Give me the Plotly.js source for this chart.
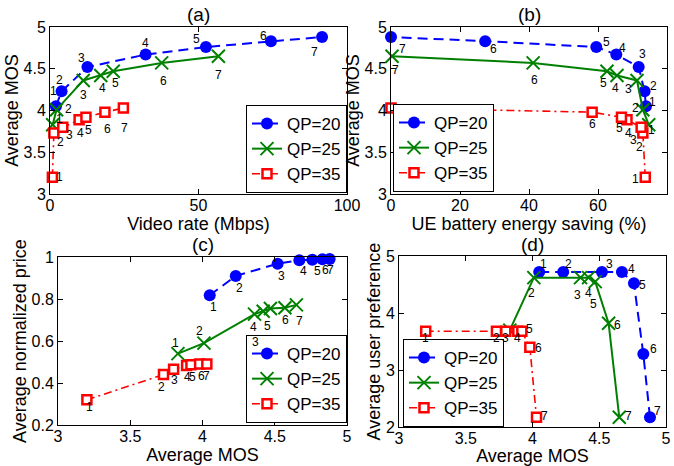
<!DOCTYPE html>
<html>
<head>
<meta charset="utf-8">
<script src="https://cdn.plot.ly/plotly-3.0.1.min.js"></script>
<style>
html,body{margin:0;padding:0;background:#fff;}
#chart{width:674px;height:466px;}
</style>
</head>
<body>
<div id="chart"></div>
<script>
// ---------------- data ----------------
const seriesNames = ['QP=20', 'QP=25', 'QP=35'];
const pointLabels = ['1', '2', '3', '4', '5', '6', '7'];

// Average MOS per configuration (shared by all four panels)
const mosQP20 = [4.05, 4.23, 4.52, 4.67, 4.76, 4.83, 4.88];
const mosQP25 = [3.83, 4.01, 4.36, 4.42, 4.47, 4.57, 4.65];
const mosQP35 = [3.20, 3.73, 3.80, 3.89, 3.92, 3.98, 4.03];

// (a) video rate (Mbps)
const rateQP20 = [2.0, 3.9, 12.6, 32.2, 52.5, 74.4, 91.6];
const rateQP25 = [0.9, 2.2, 11.2, 17.1, 21.3, 37.6, 56.7];
const rateQP35 = [0.8, 1.3, 4.3, 9.8, 12.1, 18.5, 24.7];

// (b) UE battery energy saving (%)
const saveQP20 = [73.9, 73.5, 71.8, 65.3, 59.5, 27.3, 0.0];
const saveQP25 = [74.7, 73.0, 71.3, 65.5, 62.6, 41.2, 0.3];
const saveQP35 = [73.7, 73.0, 72.5, 68.4, 66.8, 58.3, 0.0];

// (c) average normalized price
const priceQP20 = [0.818, 0.910, 0.968, 0.984, 0.987, 0.989, 0.990];
const priceQP25 = [0.540, 0.590, 0.728, 0.742, 0.755, 0.758, 0.772];
const priceQP35 = [0.320, 0.440, 0.465, 0.483, 0.487, 0.490, 0.490];

// (d) average user preference
const prefQP20 = [4.72, 4.72, 4.72, 4.72, 4.52, 3.28, 2.17];
const prefQP25 = [3.70, 4.62, 4.62, 4.62, 4.55, 3.82, 2.17];
const prefQP35 = [3.68, 3.68, 3.68, 3.68, 3.68, 3.40, 2.17];

const panelTitles = ['(a)', '(b)', '(c)', '(d)'];
const xTitles = ['Video rate (Mbps)', 'UE battery energy saving (%)', 'Average MOS', 'Average MOS'];
const yTitles = ['Average MOS', 'Average MOS', 'Average normalized price', 'Average user preference'];

// ---------------- styles ----------------
const FONT = 'Liberation Sans, Arial, Helvetica, sans-serif';
const styles = [
  {line: {color: '#0000ff', width: 2, dash: '10px,6px'},
   marker: {symbol: 'circle', size: 12, color: '#0000ff'}},
  {line: {color: '#008000', width: 2, dash: 'solid'},
   marker: {symbol: 'x-thin-open', size: 13, color: '#008000', line: {color: '#008000', width: 2}}},
  {line: {color: '#ff0000', width: 1.6, dash: '8px,4px,2px,4px'},
   marker: {symbol: 'square', size: 9, color: '#ffffff', line: {color: '#ff0000', width: 2.5}}}
];

// pixel offsets [dx, dy] (dy downwards) of the point-number labels; null = not shown
const labelOffsets = {
  a: [
    [[-2,-15],[-2,-11],[-6,-9],[0,-12],[-9,-8],[-7,-5],[-8,15]],
    [[7,-6],[12,-1],[0,15],[2,13],[2,12],[2,18],[0,19]],
    [[7,0],[7,9],[7,8],[1,13],[3,13],[3,17],[1,20]]
  ],
  b: [
    [[7,-4],[9,-5],[4,-13],[6,-7],[10,-5],[8,8],[11,12]],
    [[3,5],[-7,-2],[-8,9],[-1,13],[-3,12],[1,17],[3,14]],
    [[-10,2],[-3,14],[-8,13],[2,13],[-2,11],[0,12],null]
  ],
  c: [
    [[4,12],[4,12],[4,12],[4,11],[5,11],[3,11],[1,11]],
    [[-2,-11],[-4,-12],[1,28],[-10,16],[-3,18],[1,12],[3,16]],
    [[3,7],[-2,12],[1,11],[1,11],[2,12],[2,12],[0,12]]
  ],
  d: [
    [[4,-8],[5,-8],[8,-8],[10,-3],[9,2],[10,-5],[8,-6]],
    [null,[-2,15],[-3,17],[0,15],[-2,22],[9,2],[9,-1]],
    [[0,7],[0,7],[0,7],[0,7],[8,-2],[9,1],[8,-1]]
  ]
};

const panels = [
  {key: 'a', xa: 'x',  ya: 'y',  legend: 'legend',  xs: [rateQP20, rateQP25, rateQP35], ys: [mosQP20, mosQP25, mosQP35]},
  {key: 'b', xa: 'x2', ya: 'y2', legend: 'legend2', xs: [saveQP20, saveQP25, saveQP35], ys: [mosQP20, mosQP25, mosQP35]},
  {key: 'c', xa: 'x3', ya: 'y3', legend: 'legend3', xs: [mosQP20, mosQP25, mosQP35], ys: [priceQP20, priceQP25, priceQP35]},
  {key: 'd', xa: 'x4', ya: 'y4', legend: 'legend4', xs: [mosQP20, mosQP25, mosQP35], ys: [prefQP20, prefQP25, prefQP35]}
];

const traces = [];
const labelAnns = [];
panels.forEach(p => {
  for (let s = 0; s < 3; s++) {
    traces.push({
      type: 'scatter', mode: 'lines+markers', name: seriesNames[s],
      x: p.xs[s], y: p.ys[s], xaxis: p.xa, yaxis: p.ya, legend: p.legend,
      line: styles[s].line, marker: styles[s].marker, cliponaxis: false,
      hoverinfo: 'x+y'
    });
    pointLabels.forEach((lab, i) => {
      const off = labelOffsets[p.key][s][i];
      if (!off) return;
      labelAnns.push({
        x: p.xs[s][i], y: p.ys[s][i], xref: p.xa, yref: p.ya,
        text: lab, showarrow: false, xanchor: 'center', yanchor: 'middle',
        xshift: off[0], yshift: -off[1], borderpad: 0,
        font: {family: FONT, size: 12, color: '#000'}
      });
    });
  }
});

function axisBase(extra) {
  return Object.assign({
    showline: true, linecolor: '#000', linewidth: 1, mirror: 'ticks',
    ticks: 'inside', ticklen: 5, tickwidth: 1, tickcolor: '#000',
    showgrid: false, zeroline: false, tickmode: 'linear',
    tickfont: {family: FONT, size: 16, color: '#000'},
    fixedrange: true
  }, extra);
}
function ttl(t, standoff) { return {text: t, font: {family: FONT, size: 18, color: '#000'}, standoff: standoff}; }

const W = 674, H = 466;
const box = {
  a: {l: 50, r: 347, t: 27, b: 194},
  b: {l: 391, r: 667, t: 27, b: 194},
  c: {l: 58, r: 347, t: 257, b: 425},
  d: {l: 399, r: 666, t: 256, b: 427}
};
const dx = k => [box[k].l / W, box[k].r / W];
const dy = k => [1 - box[k].b / H, 1 - box[k].t / H];

const legendBase = {
  font: {family: FONT, size: 17, color: '#000'},
  bgcolor: '#ffffff', bordercolor: '#000', borderwidth: 1,
  tracegroupgap: 0, itemwidth: 30
};

const xExtra = {ticklabelstandoff: -3};

const titleAnns = [
  {text: panelTitles[0], x: (box.a.l + box.a.r) / 2 / W, y: 1 - 15 / H},
  {text: panelTitles[1], x: (box.b.l + box.b.r) / 2 / W, y: 1 - 15 / H},
  {text: panelTitles[2], x: (box.c.l + box.c.r) / 2 / W, y: 1 - 244 / H},
  {text: panelTitles[3], x: (box.d.l + box.d.r) / 2 / W, y: 1 - 244 / H}
].map(a => Object.assign(a, {xref: 'paper', yref: 'paper', xanchor: 'center', yanchor: 'middle',
    showarrow: false, font: {family: FONT, size: 19, color: '#000'}}));

const layout = {
  width: W, height: H,
  margin: {l: 0, r: 0, t: 0, b: 0},
  paper_bgcolor: '#fff', plot_bgcolor: '#fff',
  font: {family: FONT, color: '#000'},
  showlegend: true,
  xaxis:  axisBase(Object.assign({domain: dx('a'), anchor: 'y',  range: [0, 100], tick0: 0, dtick: 50, title: ttl(xTitles[0], 0)}, xExtra)),
  yaxis:  axisBase({domain: dy('a'), anchor: 'x',  range: [3, 5], tick0: 3, dtick: 0.5, title: ttl(yTitles[0], 0)}),
  xaxis2: axisBase(Object.assign({domain: dx('b'), anchor: 'y2', range: [0, 80], tick0: 0, dtick: 20, title: ttl(xTitles[1], 0)}, xExtra)),
  yaxis2: axisBase({domain: dy('b'), anchor: 'x2', range: [3, 5], tick0: 3, dtick: 0.5, title: ttl(yTitles[1], 0)}),
  xaxis3: axisBase(Object.assign({domain: dx('c'), anchor: 'y3', range: [3, 5], tick0: 3, dtick: 0.5, title: ttl(xTitles[2], 0)}, xExtra)),
  yaxis3: axisBase({domain: dy('c'), anchor: 'x3', range: [0.2, 1], tick0: 0.2, dtick: 0.2, title: ttl(yTitles[2], 0)}),
  xaxis4: axisBase(Object.assign({domain: dx('d'), anchor: 'y4', range: [3, 5], tick0: 3, dtick: 0.5, title: ttl(xTitles[3], 0)}, xExtra)),
  yaxis4: axisBase({domain: dy('d'), anchor: 'x4', range: [2, 5], tick0: 2, dtick: 1, title: ttl(yTitles[3], 0)}),
  legend:  Object.assign({}, legendBase, {x: box.a.r / W, xanchor: 'right', y: 1 - 193 / H, yanchor: 'bottom'}),
  legend2: Object.assign({}, legendBase, {x: 393 / W, xanchor: 'left', y: 1 - 192 / H, yanchor: 'bottom'}),
  legend3: Object.assign({}, legendBase, {x: box.c.r / W, xanchor: 'right', y: 1 - 423 / H, yanchor: 'bottom'}),
  legend4: Object.assign({}, legendBase, {x: 403 / W, xanchor: 'left', y: 1 - 427 / H, yanchor: 'bottom'}),
  annotations: titleAnns.concat(labelAnns)
};

Plotly.newPlot('chart', traces, layout, {staticPlot: true, displayModeBar: false});
</script>
</body>
</html>
